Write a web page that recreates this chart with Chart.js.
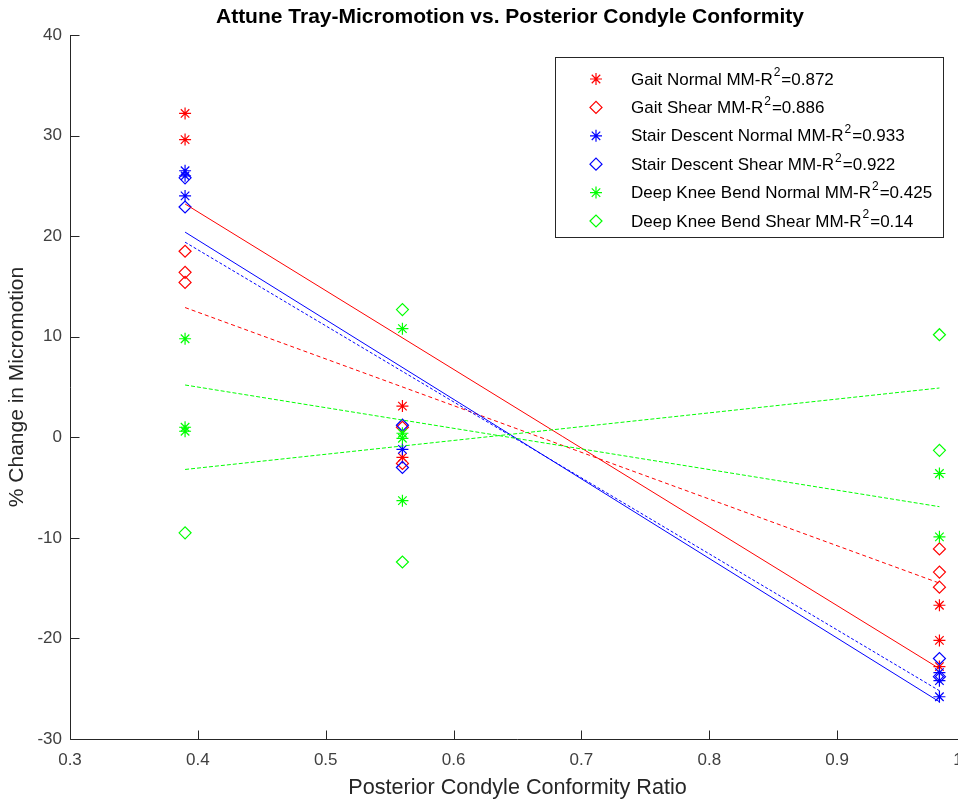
<!DOCTYPE html>
<html>
<head>
<meta charset="utf-8">
<script src="https://cdn.jsdelivr.net/npm/chart.js@4.4.1/dist/chart.umd.min.js"></script>
<style>
  html, body { margin: 0; padding: 0; background: #fff; overflow: hidden; }
  #wrap { width: 1020px; height: 804px; }
</style>
</head>
<body>
<div id="wrap"><canvas id="chart"></canvas></div>
<script>
// ---- data ----
const ratios = [0.39, 0.56, 0.98];          // conformity ratio of each tray
const xTicks = [0.3, 0.4, 0.5, 0.6, 0.7, 0.8, 0.9, 1.0];
const yTicks = [-30, -20, -10, 0, 10, 20, 30, 40];

// % change per ratio (one list per ratio)
const gaitNormal   = [[32.2, 29.6], [3.1, -2.0], [-16.7, -20.2, -22.8]];
const gaitShear    = [[18.5, 16.4, 15.4], [1.0, -2.6], [-11.1, -13.4, -14.9]];
const stairNormal  = [[26.5, 26.0, 24.0], [-1.2], [-23.4, -24.2, -25.8]];
const stairShear   = [[25.8, 22.9], [1.2, -3.0], [-22.0, -23.8]];
const dkbNormal    = [[9.8, 1.0, 0.6], [10.8, 0.4, -0.1, -6.3], [-3.6, -9.9]];
const dkbShear     = [[-9.5], [12.7, -12.4], [10.2, -1.3]];

// fitted lines, value at ratios 0.39 and 0.98
const fitX = [0.39, 0.98];
const fitGaitNormal  = [23.2, -23.0];
const fitGaitShear   = [12.9, -14.5];
const fitStairNormal = [20.4, -26.3];
const fitStairShear  = [19.4, -25.2];
const fitDkbNormal   = [5.2, -6.9];
const fitDkbShear    = [-3.2, 4.9];

const labels = ['Gait Normal', 'Gait Shear', 'Stair Descent Normal', 'Stair Descent Shear',
                'Deep Knee Bend Normal', 'Deep Knee Bend Shear'];
const rSquared = ['0.872', '0.886', '0.933', '0.922', '0.425', '0.14'];

const RED = '#ff0000', BLUE = '#0000ff', GREEN = '#00ff00';
const FONT = '"Liberation Sans", Arial, sans-serif';
const NONE = 'rgba(0,0,0,0)';

function toPoints(groups) {
    const pts = [];
    groups.forEach((vals, i) => vals.forEach(v => pts.push({ x: ratios[i], y: v })));
    return pts;
}
function toLine(ends) {
    return fitX.map((x, i) => ({ x: x, y: ends[i] }));
}

const series = [
    { data: gaitNormal,  fit: fitGaitNormal,  color: RED,   style: 'star',    dash: [] },
    { data: gaitShear,   fit: fitGaitShear,   color: RED,   style: 'rectRot', dash: [4, 3] },
    { data: stairNormal, fit: fitStairNormal, color: BLUE,  style: 'star',    dash: [] },
    { data: stairShear,  fit: fitStairShear,  color: BLUE,  style: 'rectRot', dash: [3, 2] },
    { data: dkbNormal,   fit: fitDkbNormal,   color: GREEN, style: 'star',    dash: [4, 2] },
    { data: dkbShear,    fit: fitDkbShear,    color: GREEN, style: 'rectRot', dash: [4, 2] }
];

const datasets = [];
series.forEach((s, i) => {
    datasets.push({
        type: 'scatter',
        label: labels[i],
        data: toPoints(s.data),
        pointStyle: s.style,
        pointRadius: 6,
        pointHoverRadius: 6,
        pointBorderWidth: 1.2,
        borderColor: s.color,
        pointBorderColor: s.color,
        backgroundColor: NONE,
        pointBackgroundColor: NONE,
        order: 20 - i
    });
});
series.forEach((s, i) => {
    datasets.push({
        type: 'line',
        label: labels[i] + ' fit',
        data: toLine(s.fit),
        borderColor: s.color,
        borderWidth: 1,
        borderDash: s.dash,
        pointRadius: 0,
        fill: false,
        order: 6 - i
    });
});

// ---- MATLAB style axes: left + bottom lines, ticks pointing inward ----
const matlabAxes = {
    id: 'matlabAxes',
    afterDraw(chart) {
        const { ctx, chartArea: a, scales: { x, y } } = chart;
        ctx.save();
        ctx.strokeStyle = '#262626';
        ctx.lineWidth = 1;
        ctx.beginPath();
        const L = Math.round(a.left) + 0.5, B = Math.round(a.bottom) + 0.5;
        ctx.moveTo(L, a.top);
        ctx.lineTo(L, B);
        ctx.lineTo(a.right, B);
        x.ticks.forEach(t => {
            const px = Math.round(x.getPixelForValue(t.value)) + 0.5;
            ctx.moveTo(px, B);
            ctx.lineTo(px, B - 9);
        });
        y.ticks.forEach(t => {
            const py = Math.round(y.getPixelForValue(t.value)) + 0.5;
            ctx.moveTo(L, py);
            ctx.lineTo(L + 9, py);
        });
        ctx.stroke();
        ctx.restore();
    }
};

// ---- legend box inside the plot, with superscript 2 ----
const boxLegend = {
    id: 'boxLegend',
    afterDraw(chart) {
        const ctx = chart.ctx;
        const bx = 555.5, by = 57.5, bw = 388, bh = 180;
        ctx.save();
        ctx.fillStyle = '#fff';
        ctx.fillRect(bx, by, bw, bh);
        ctx.strokeStyle = '#262626';
        ctx.lineWidth = 1;
        ctx.strokeRect(bx, by, bw, bh);
        ctx.textBaseline = 'middle';
        ctx.textAlign = 'left';
        labels.forEach((lab, i) => {
            const cy = 79 + i * 28.4;
            const s = series[i];
            ctx.strokeStyle = s.color;
            ctx.fillStyle = NONE;
            ctx.lineWidth = 1.2;
            Chart.helpers.drawPoint(ctx, { pointStyle: s.style, radius: 6, borderWidth: 1.2 }, 596, cy);
            ctx.fillStyle = '#000';
            ctx.font = '17px ' + FONT;
            const main = lab + ' MM-R';
            ctx.fillText(main, 631, cy + 1);
            const w = ctx.measureText(main).width;
            ctx.font = '12px ' + FONT;
            ctx.fillText('2', 631 + w + 1, cy - 6);
            const w2 = ctx.measureText('2').width;
            ctx.font = '17px ' + FONT;
            ctx.fillText('=' + rSquared[i], 631 + w + w2 + 2, cy + 1);
        });
        ctx.restore();
    }
};

new Chart(document.getElementById('chart'), {
    type: 'scatter',
    data: { datasets: datasets },
    plugins: [matlabAxes, boxLegend],
    options: {
        responsive: true,
        maintainAspectRatio: false,
        animation: false,
        layout: { padding: 0 },
        plugins: {
            legend: { display: false },
            tooltip: { enabled: false },
            title: {
                display: true,
                text: 'Attune Tray-Micromotion vs. Posterior Condyle Conformity',
                color: '#000',
                font: { family: FONT, size: 21, weight: 'bold' },
                padding: { top: 5, bottom: 4.8 }
            }
        },
        scales: {
            x: {
                type: 'linear',
                min: 0.3,
                max: 1.0,
                afterBuildTicks: s => { s.ticks = xTicks.map(v => ({ value: v })); },
                afterFit: s => { s.height = 65; },
                grid: { display: false, drawTicks: false },
                border: { display: false },
                ticks: {
                    padding: 11,
                    color: '#404040',
                    font: { family: FONT, size: 17 },
                    maxRotation: 0,
                    callback: v => v.toFixed(1)
                },
                title: {
                    display: true,
                    text: 'Posterior Condyle Conformity Ratio',
                    color: '#262626',
                    font: { family: FONT, size: 21.6 },
                    padding: { top: 0, bottom: 3 }
                }
            },
            y: {
                type: 'linear',
                min: -30,
                max: 40,
                afterBuildTicks: s => { s.ticks = yTicks.map(v => ({ value: v })); },
                afterFit: s => { s.width = 70; },
                grid: { display: false, drawTicks: false },
                border: { display: false },
                ticks: {
                    padding: 8,
                    color: '#404040',
                    font: { family: FONT, size: 17 }
                },
                title: {
                    display: true,
                    text: '% Change in Micromotion',
                    color: '#262626',
                    font: { family: FONT, size: 21 },
                    padding: { top: 5, bottom: 0 }
                }
            },
            // empty right-hand strip so the plot ends at ratio 1.0 past the window edge
            spacer: {
                type: 'linear',
                position: 'right',
                display: true,
                afterFit: s => { s.width = 55; },
                grid: { display: false, drawTicks: false },
                border: { display: false },
                ticks: { display: false }
            }
        }
    }
});
</script>
</body>
</html>
